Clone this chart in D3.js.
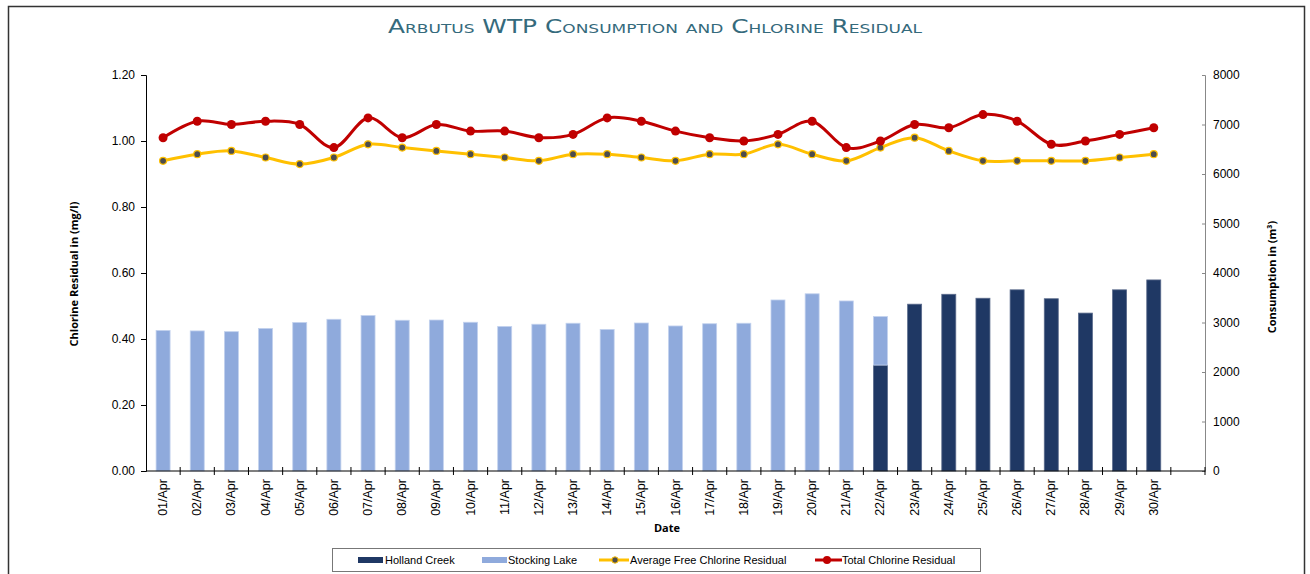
<!DOCTYPE html>
<html>
<head>
<meta charset="utf-8">
<script src="https://cdn.jsdelivr.net/npm/d3@7"></script>
<style>
  body { margin:0; background:#fff; }
  svg text { font-family: "Liberation Sans", Arial, sans-serif; }
</style>
</head>
<body>
<div id="chart"></div>
<script>
// Data
const dates = ["01/Apr","02/Apr","03/Apr","04/Apr","05/Apr","06/Apr","07/Apr","08/Apr","09/Apr","10/Apr",
  "11/Apr","12/Apr","13/Apr","14/Apr","15/Apr","16/Apr","17/Apr","18/Apr","19/Apr","20/Apr",
  "21/Apr","22/Apr","23/Apr","24/Apr","25/Apr","26/Apr","27/Apr","28/Apr","29/Apr","30/Apr"];
// consumption, m3
const hollandCreek = [0,0,0,0,0,0,0,0,0,0, 0,0,0,0,0,0,0,0,0,0, 0,2140,3370,3570,3490,3660,3480,3190,3660,3860];
const stockingLake = [2840,2830,2815,2880,3000,3065,3140,3045,3050,3005, 2920,2965,2985,2860,2990,2930,2975,2985,3455,3580, 3435,980,0,0,0,0,0,0,0,0];
// chlorine, mg/l
const avgFree = [0.94,0.96,0.97,0.95,0.93,0.95,0.99,0.98,0.97,0.96, 0.95,0.94,0.96,0.96,0.95,0.94,0.96,0.96,0.99,0.96, 0.94,0.98,1.01,0.97,0.94,0.94,0.94,0.94,0.95,0.96];
const totalCl = [1.01,1.06,1.05,1.06,1.05,0.98,1.07,1.01,1.05,1.03, 1.03,1.01,1.02,1.07,1.06,1.03,1.01,1.00,1.02,1.06, 0.98,1.00,1.05,1.04,1.08,1.06,0.99,1.00,1.02,1.04];
const leftTicks = [0,0.2,0.4,0.6,0.8,1.0,1.2];
const rightTicks = [0,1000,2000,3000,4000,5000,6000,7000,8000];

const W = 1310, H = 574;
const plot = {left:146, right:1205, top:75, bottom:471};
const colHC = "#1f3864", colSL = "#8faadc", colAvg = "#ffc000", colTot = "#c00000";

const svg = d3.select('#chart').append('svg').attr('width', W).attr('height', H);

// frame
svg.append('rect').attr('x', 8.5).attr('y', 6.5).attr('width', 1296).attr('height', 600)
  .attr('fill', 'none').attr('stroke', '#333').attr('stroke-width', 1.5);

// title
svg.append('text').attr('x', 655).attr('y', 33).attr('text-anchor', 'middle')
  .style('font-family', '"DejaVu Sans", sans-serif').style('font-size', '19px')
  .style('font-variant', 'small-caps').attr('fill', '#356a7c')
  .attr('textLength', 534).attr('lengthAdjust', 'spacingAndGlyphs')
  .text('Arbutus WTP Consumption and Chlorine Residual');

// scales (one extra empty slot after 30/Apr, like the source)
const x = d3.scaleBand().domain(dates.concat([""])).range([plot.left, plot.right]);
const yL = d3.scaleLinear().domain([0, 1.2]).range([plot.bottom, plot.top]);
const yR = d3.scaleLinear().domain([0, 8000]).range([plot.bottom, plot.top]);
const cx = d => x(d) + x.bandwidth() / 2;
const barW = 14;

// bars (stacked)
const rows = dates.map((d, i) => ({date:d, hc:hollandCreek[i], sl:stockingLake[i]}));
const stack = d3.stack().keys(["hc","sl"])(rows);
const barColor = {hc:colHC, sl:colSL};
const barEdge = {hc:"#5b6b8c", sl:"#c3d2ee"};
svg.append('g').selectAll('g').data(stack).enter().append('g')
  .attr('fill', d => barColor[d.key]).attr('stroke', d => barEdge[d.key]).attr('stroke-width', 0.8)
  .selectAll('rect').data(d => d.filter(s => s[1] > s[0])).enter().append('rect')
    .attr('x', d => cx(d.data.date) - barW / 2)
    .attr('width', barW)
    .attr('y', d => yR(d[1]))
    .attr('height', d => yR(d[0]) - yR(d[1]));

// axes
const axL = svg.append('g').attr('transform', `translate(${plot.left},0)`)
  .call(d3.axisLeft(yL).tickValues(leftTicks).tickFormat(d3.format('.2f')).tickSizeOuter(0).tickSize(5).tickPadding(6));
axL.selectAll('text').style('font-size', '12px').attr('fill', '#000');
axL.select('.domain').attr('stroke', '#000');

const axR = svg.append('g').attr('transform', `translate(${plot.right},0)`)
  .call(d3.axisRight(yR).tickValues(rightTicks).tickFormat(d3.format('d')).tickSizeOuter(0).tickSize(-3).tickPadding(8));
axR.selectAll('text').style('font-size', '12px').attr('fill', '#000');
axR.select('.domain').attr('stroke', '#888');
axR.selectAll('.tick line').attr('stroke', '#888');

// x axis
const axX = svg.append('g').attr('transform', `translate(0,${plot.bottom})`);
axX.append('line').attr('x1', plot.left).attr('x2', plot.right).attr('stroke', '#000');
axX.selectAll('line.tk').data(x.domain()).enter().append('line').attr('class', 'tk')
  .attr('x1', d => x(d) + x.bandwidth()).attr('x2', d => x(d) + x.bandwidth())
  .attr('y1', -4).attr('y2', 4).attr('stroke', '#000');
axX.selectAll('text').data(dates).enter().append('text')
  .attr('transform', d => `translate(${cx(d) + 4},8) rotate(-90)`)
  .attr('text-anchor', 'end').style('font-size', '12.5px').text(d => d);

// axis titles
const titleFont = sel => sel.style('font-family', '"Open Sans", sans-serif').style('font-size', '11px').style('font-weight', 'bold');
svg.append('text').attr('transform', `translate(78,274) rotate(-90)`).attr('text-anchor', 'middle')
  .call(titleFont).text('Chlorine Residual in (mg/l)');
svg.append('text').attr('transform', `translate(1276,277) rotate(-90)`).attr('text-anchor', 'middle')
  .call(titleFont).text('Consumption in (m³)');
svg.append('text').attr('x', 667).attr('y', 532).attr('text-anchor', 'middle')
  .call(titleFont).text('Date');

// lines
const line = d3.line().x((d, i) => cx(dates[i])).y(d => yL(d)).curve(d3.curveCardinal.tension(0));
svg.append('path').datum(avgFree).attr('d', line).attr('fill', 'none').attr('stroke', colAvg).attr('stroke-width', 3);
svg.append('g').selectAll('circle').data(avgFree).enter().append('circle')
  .attr('cx', (d, i) => cx(dates[i])).attr('cy', d => yL(d)).attr('r', 3.5)
  .attr('fill', '#4d4d4d').attr('stroke', colAvg).attr('stroke-width', 1.2);
svg.append('path').datum(totalCl).attr('d', line).attr('fill', 'none').attr('stroke', colTot).attr('stroke-width', 3);
svg.append('g').selectAll('circle').data(totalCl).enter().append('circle')
  .attr('cx', (d, i) => cx(dates[i])).attr('cy', d => yL(d)).attr('r', 4.5)
  .attr('fill', colTot);

// legend
const lg = svg.append('g');
lg.append('rect').attr('x', 332.5).attr('y', 548.5).attr('width', 648).attr('height', 23)
  .attr('fill', '#fff').attr('stroke', '#777');
const ly = 560;
lg.append('rect').attr('x', 358).attr('y', ly - 3).attr('width', 25).attr('height', 6).attr('fill', colHC);
lg.append('rect').attr('x', 482).attr('y', ly - 3).attr('width', 25).attr('height', 6).attr('fill', colSL);
lg.append('line').attr('x1', 599).attr('x2', 629).attr('y1', ly).attr('y2', ly).attr('stroke', colAvg).attr('stroke-width', 3);
lg.append('circle').attr('cx', 615).attr('cy', ly).attr('r', 3.2).attr('fill', '#4d4d4d').attr('stroke', colAvg);
lg.append('line').attr('x1', 815).attr('x2', 842).attr('y1', ly).attr('y2', ly).attr('stroke', colTot).attr('stroke-width', 3);
lg.append('circle').attr('cx', 827).attr('cy', ly).attr('r', 4).attr('fill', colTot);
const legTexts = [[385, 'Holland Creek'], [508, 'Stocking Lake'], [630, 'Average Free Chlorine Residual'], [842, 'Total Chlorine Residual']];
lg.selectAll('text.lt').data(legTexts).enter().append('text').attr('class', 'lt')
  .attr('x', d => d[0]).attr('y', ly + 4).style('font-size', '11px').text(d => d[1]);
</script>
</body>
</html>
